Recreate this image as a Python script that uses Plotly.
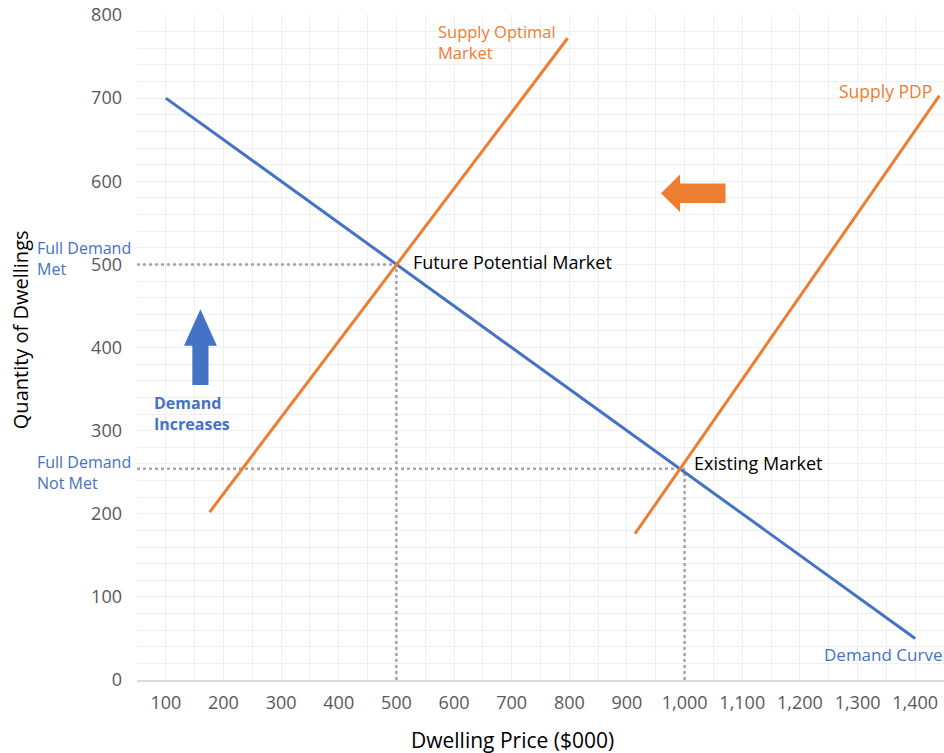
import plotly.graph_objects as go

# ---- data ----
demand_x = [100, 1400]
demand_y = [700, 50]
supply_opt_x = [176, 797]
supply_opt_y = [202, 772]
supply_pdp_x = [914, 1442]
supply_pdp_y = [176, 703]
future_pt = (500, 500)
existing_pt = (1000, 254)
x_ticks = list(range(100, 1401, 100))
y_ticks = list(range(0, 801, 100))

BLUE = "#4472C4"
ORANGE = "#ED7D31"
GREY_DOT = "#A6A6A6"
FONT = "Open Sans"

fig = go.Figure()

# dotted reference lines
for (px, py) in [future_pt, existing_pt]:
    fig.add_trace(go.Scatter(x=[50, px], y=[py, py], mode="lines",
                             line=dict(color=GREY_DOT, width=2.5, dash="dot"),
                             hoverinfo="skip", showlegend=False))
    fig.add_trace(go.Scatter(x=[px, px], y=[0, py], mode="lines",
                             line=dict(color=GREY_DOT, width=2.5, dash="dot"),
                             hoverinfo="skip", showlegend=False))

fig.add_trace(go.Scatter(x=demand_x, y=demand_y, mode="lines",
                         line=dict(color=BLUE, width=3), name="Demand Curve", showlegend=False))
fig.add_trace(go.Scatter(x=supply_opt_x, y=supply_opt_y, mode="lines",
                         line=dict(color=ORANGE, width=3), name="Supply Optimal Market", showlegend=False))
fig.add_trace(go.Scatter(x=supply_pdp_x, y=supply_pdp_y, mode="lines",
                         line=dict(color=ORANGE, width=3), name="Supply PDP", showlegend=False))

# block arrows (decorations) built from anchor values in data units
def up_arrow(cx, bottom, head_base, tip, shaft_hw, head_hw):
    return (f"M {cx-shaft_hw},{bottom} L {cx-shaft_hw},{head_base} L {cx-head_hw},{head_base} "
            f"L {cx},{tip} L {cx+head_hw},{head_base} L {cx+shaft_hw},{head_base} "
            f"L {cx+shaft_hw},{bottom} Z")

def left_arrow(cy, right, head_base, tip, shaft_hh, head_hh):
    return (f"M {right},{cy-shaft_hh} L {head_base},{cy-shaft_hh} L {head_base},{cy-head_hh} "
            f"L {tip},{cy} L {head_base},{cy+head_hh} L {head_base},{cy+shaft_hh} "
            f"L {right},{cy+shaft_hh} Z")

fig.add_shape(type="path", xref="x", yref="y",
              path=up_arrow(160, 355, 402, 446, 14, 28.5),
              fillcolor=BLUE, line=dict(width=0))
fig.add_shape(type="path", xref="x", yref="y",
              path=left_arrow(585.5, 1071, 992, 959, 11.7, 22.5),
              fillcolor=ORANGE, line=dict(width=0))

ann = []
def add_text(text, x, y, color, xanchor="left", xref="x", bold=False, size=17):
    ann.append(dict(text=f"<b>{text}</b>" if bold else text, x=x, y=y, xref=xref, yref="y",
                    xanchor=xanchor, yanchor="middle", align=xanchor,
                    showarrow=False, font=dict(family=FONT, size=size, color=color)))

add_text("Supply Optimal<br>Market", 568, 767, ORANGE, size=16.5)
add_text("Supply PDP", 1432, 709, ORANGE, xanchor="right", size=17.5)
add_text("Future Potential Market", 525, 503, "#000000", size=18)
add_text("Existing Market", 1012, 261, "#000000", size=18)
add_text("Demand Curve", 1.0, 31, BLUE, xanchor="right", xref="paper")
add_text("Demand<br>Increases", 76.5, 321, BLUE, bold=True, size=16)
add_text("Full Demand<br>Met", -0.127, 507, BLUE, xref="paper", size=16)
add_text("Full Demand<br>Not Met", -0.127, 249.3, BLUE, xref="paper", size=16)

# axis titles
ann.append(dict(text="Quantity of Dwellings", x=-0.145, y=422, xref="paper", yref="y",
                xanchor="center", yanchor="middle", textangle=-90, showarrow=False,
                font=dict(family=FONT, size=20, color="#000000")))
ann.append(dict(text="Dwelling Price ($000)", x=702, y=(680 - 740) / 665.0, xref="x", yref="paper",
                yanchor="middle", xanchor="center", showarrow=False,
                font=dict(family=FONT, size=21, color="#000000")))

fig.update_layout(
    width=944, height=753,
    margin=dict(l=137, r=0, t=15, b=73),
    paper_bgcolor="white", plot_bgcolor="white",
    font=dict(family=FONT, color="#595959"),
    annotations=ann,
    xaxis=dict(range=[50, 1450], tickvals=x_ticks, tickformat=",",
               showgrid=True, gridcolor="#EFEFEF", gridwidth=1,
               minor=dict(dtick=50, tick0=0, showgrid=True, gridcolor="#EFEFEF", gridwidth=1),
               showline=True, linecolor="#D9D9D9", linewidth=1.5, zeroline=False,
               ticks="", tickfont=dict(size=18, color="#595959"),
               ticklabelstandoff=6),
    yaxis=dict(range=[0, 800], tickvals=y_ticks,
               showgrid=True, gridcolor="#EFEFEF", gridwidth=1,
               minor=dict(dtick=20, tick0=0, showgrid=True, gridcolor="#EFEFEF", gridwidth=1),
               showline=False, zeroline=False,
               ticks="", tickfont=dict(size=18, color="#595959"),
               ticklabelstandoff=14),
)

fig.write_html("out.html")
